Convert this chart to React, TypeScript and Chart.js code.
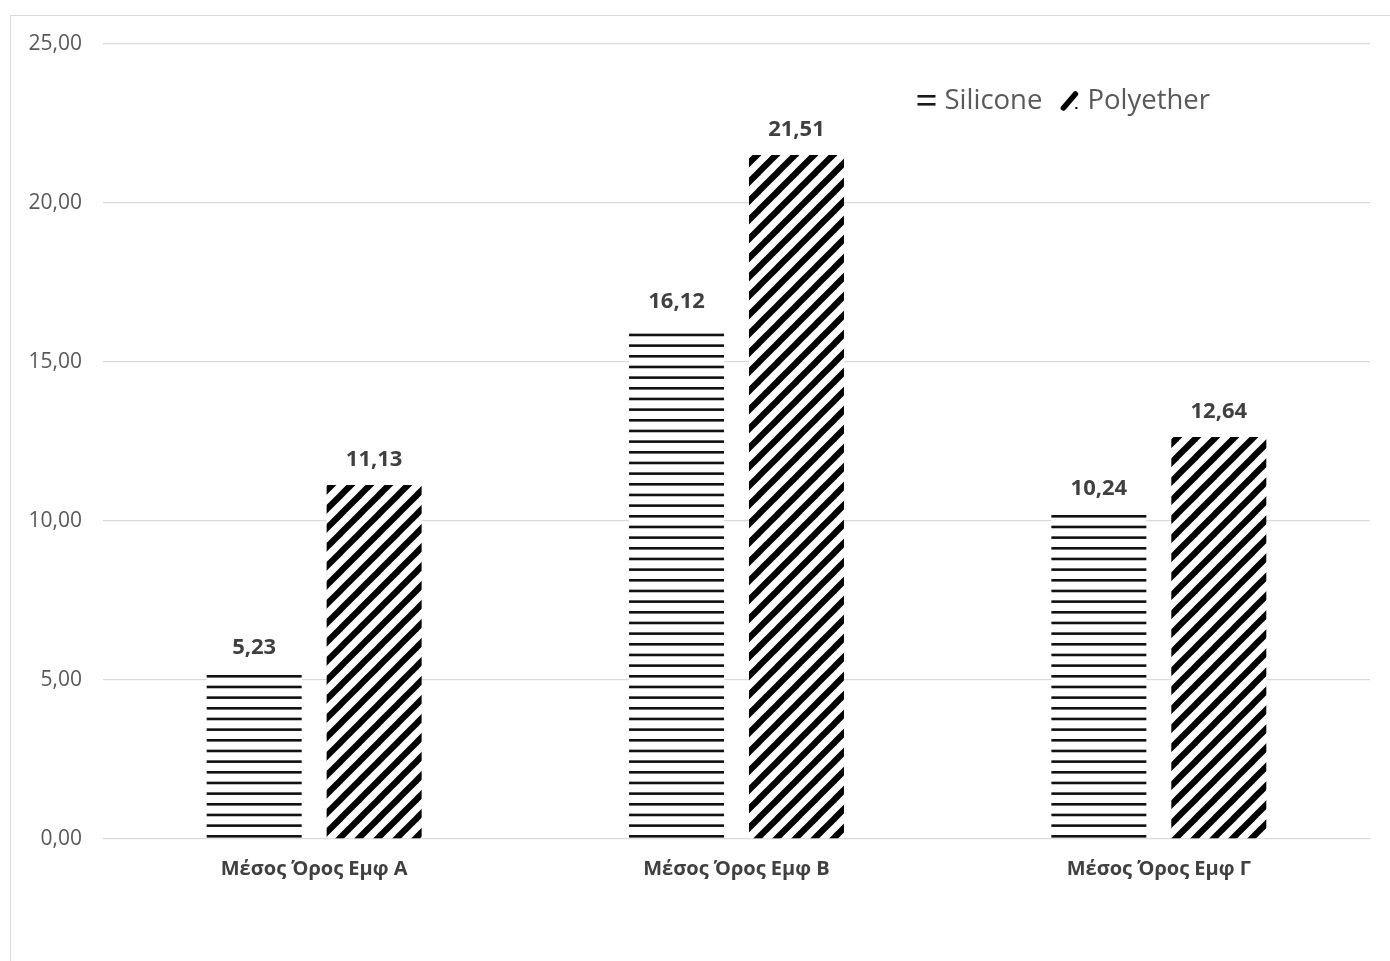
import React, { useEffect, useRef } from "react";
import { Chart, registerables } from "chart.js";

Chart.register(...registerables);

const categories = ["Μέσος Όρος Εμφ Α", "Μέσος Όρος Εμφ Β", "Μέσος Όρος Εμφ Γ"];
const seriesNames = ["Silicone", "Polyether"];
const siliconeValues = [5.23, 16.12, 10.24];
const polyetherValues = [11.13, 21.51, 12.64];
const yMin = 0;
const yMax = 25;
const yStep = 5;

const FONT = "'Open Sans', 'DejaVu Sans', sans-serif";
const fmt = (v: number) => v.toFixed(2).replace(".", ",");

function makeHorizontalPattern(ctx: CanvasRenderingContext2D) {
  const tile = document.createElement("canvas");
  tile.width = 8;
  tile.height = 32;
  const t = tile.getContext("2d")!;
  t.fillStyle = "#ffffff";
  t.fillRect(0, 0, 8, 32);
  t.fillStyle = "#111111";
  [0, 10.67, 21.33].forEach((y) => t.fillRect(0, y + 3, 8, 2.6));
  return ctx.createPattern(tile, "repeat")!;
}

function makeDiagonalPattern(ctx: CanvasRenderingContext2D) {
  const s = 19;
  const tile = document.createElement("canvas");
  tile.width = s;
  tile.height = s;
  const t = tile.getContext("2d")!;
  t.fillStyle = "#ffffff";
  t.fillRect(0, 0, s, s);
  t.strokeStyle = "#000000";
  t.lineWidth = 6.2;
  t.lineCap = "square";
  for (const off of [-s, 0, s]) {
    t.beginPath();
    t.moveTo(off - 2, s + 2);
    t.lineTo(off + s + 2, -2);
    t.stroke();
  }
  return ctx.createPattern(tile, "repeat")!;
}

const valueLabelPlugin = {
  id: "valueLabels",
  afterDatasetsDraw(chart: any) {
    const { ctx } = chart;
    ctx.save();
    ctx.font = `bold 22px ${FONT}`;
    ctx.fillStyle = "#404040";
    ctx.textAlign = "center";
    ctx.textBaseline = "middle";
    chart.data.datasets.forEach((ds: any, i: number) => {
      const meta = chart.getDatasetMeta(i);
      meta.data.forEach((bar: any, j: number) => {
        ctx.fillText(fmt(ds.data[j]), bar.x, bar.y - 25);
      });
    });
    ctx.restore();
  },
};

const legendPlugin = {
  id: "innerLegend",
  afterDraw(chart: any) {
    const { ctx, chartArea } = chart;
    ctx.save();
    ctx.font = `27.5px ${FONT}`;
    ctx.textBaseline = "middle";
    const iconW = 18;
    const gapIconText = 9;
    const gapItems = 18;
    const widths = seriesNames.map((n) => ctx.measureText(n).width);
    const total =
      widths.reduce((a: number, b: number) => a + b, 0) +
      seriesNames.length * (iconW + gapIconText) +
      gapItems * (seriesNames.length - 1);
    let x = chartArea.right - 160 - total;
    const y = chartArea.top + 56;
    seriesNames.forEach((name, i) => {
      if (i === 0) {
        ctx.fillStyle = "#1a1a1a";
        ctx.fillRect(x, y - 5, iconW, 2.6);
        ctx.fillRect(x, y + 3, iconW, 2.6);
      } else {
        ctx.strokeStyle = "#000000";
        ctx.lineWidth = 5.5;
        ctx.lineCap = "round";
        ctx.beginPath();
        ctx.moveTo(x + 3, y + 8);
        ctx.lineTo(x + 15, y - 6);
        ctx.stroke();
        ctx.fillStyle = "#000";
        ctx.fillRect(x + 15, y + 7, 2, 2);
      }
      x += iconW + gapIconText;
      ctx.fillStyle = "#595959";
      ctx.fillText(name, x, y + 1);
      x += widths[i] + gapItems;
    });
    ctx.restore();
  },
};

export default function App() {
  const canvasRef = useRef<HTMLCanvasElement>(null);

  useEffect(() => {
    const canvas = canvasRef.current!;
    const ctx = canvas.getContext("2d")!;
    const hPattern = makeHorizontalPattern(ctx);
    const dPattern = makeDiagonalPattern(ctx);

    const chart = new Chart(ctx, {
      type: "bar",
      data: {
        labels: categories,
        datasets: [
          {
            label: seriesNames[0],
            data: siliconeValues,
            backgroundColor: hPattern,
            borderWidth: 0,
            categoryPercentage: 0.568,
            barPercentage: 0.792,
          },
          {
            label: seriesNames[1],
            data: polyetherValues,
            backgroundColor: dPattern,
            borderWidth: 0,
            categoryPercentage: 0.568,
            barPercentage: 0.792,
          },
        ],
      },
      options: {
        animation: false,
        responsive: false,
        maintainAspectRatio: false,
        layout: { padding: { top: 44, right: 20, left: 0, bottom: 0 } },
        plugins: {
          legend: { display: false },
          tooltip: { enabled: false },
          title: { display: false },
        },
        scales: {
          x: {
            grid: { display: false, drawTicks: false },
            border: { display: false },
            ticks: {
              padding: 18,
              color: "#404040",
              font: { family: FONT, size: 20, weight: "bold" },
            },
            afterFit: (s: any) => {
              s.height = 122;
            },
          },
          y: {
            min: yMin,
            max: yMax,
            grid: { color: "#d9d9d9", lineWidth: 1.3, drawTicks: false },
            border: { display: false },
            ticks: {
              stepSize: yStep,
              padding: 21,
              color: "#595959",
              font: { family: FONT, size: 21 },
              callback: (v: any) => fmt(Number(v)),
            },
            afterFit: (s: any) => {
              s.width = 103;
            },
          },
        },
      },
      plugins: [valueLabelPlugin, legendPlugin],
    });
    return () => chart.destroy();
  }, []);

  return (
    <div
      style={{
        position: "absolute",
        left: 0,
        top: 0,
        width: 1390,
        height: 961,
        overflow: "hidden",
        background: "#ffffff",
      }}
    >
      <div
        style={{
          position: "absolute",
          left: 10,
          top: 15,
          width: 1400,
          height: 1000,
          border: "1.5px solid #d9d9d9",
        }}
      />
      <canvas
        ref={canvasRef}
        width={1390}
        height={961}
        style={{ position: "absolute", left: 0, top: 0, display: "block" }}
      />
    </div>
  );
}
